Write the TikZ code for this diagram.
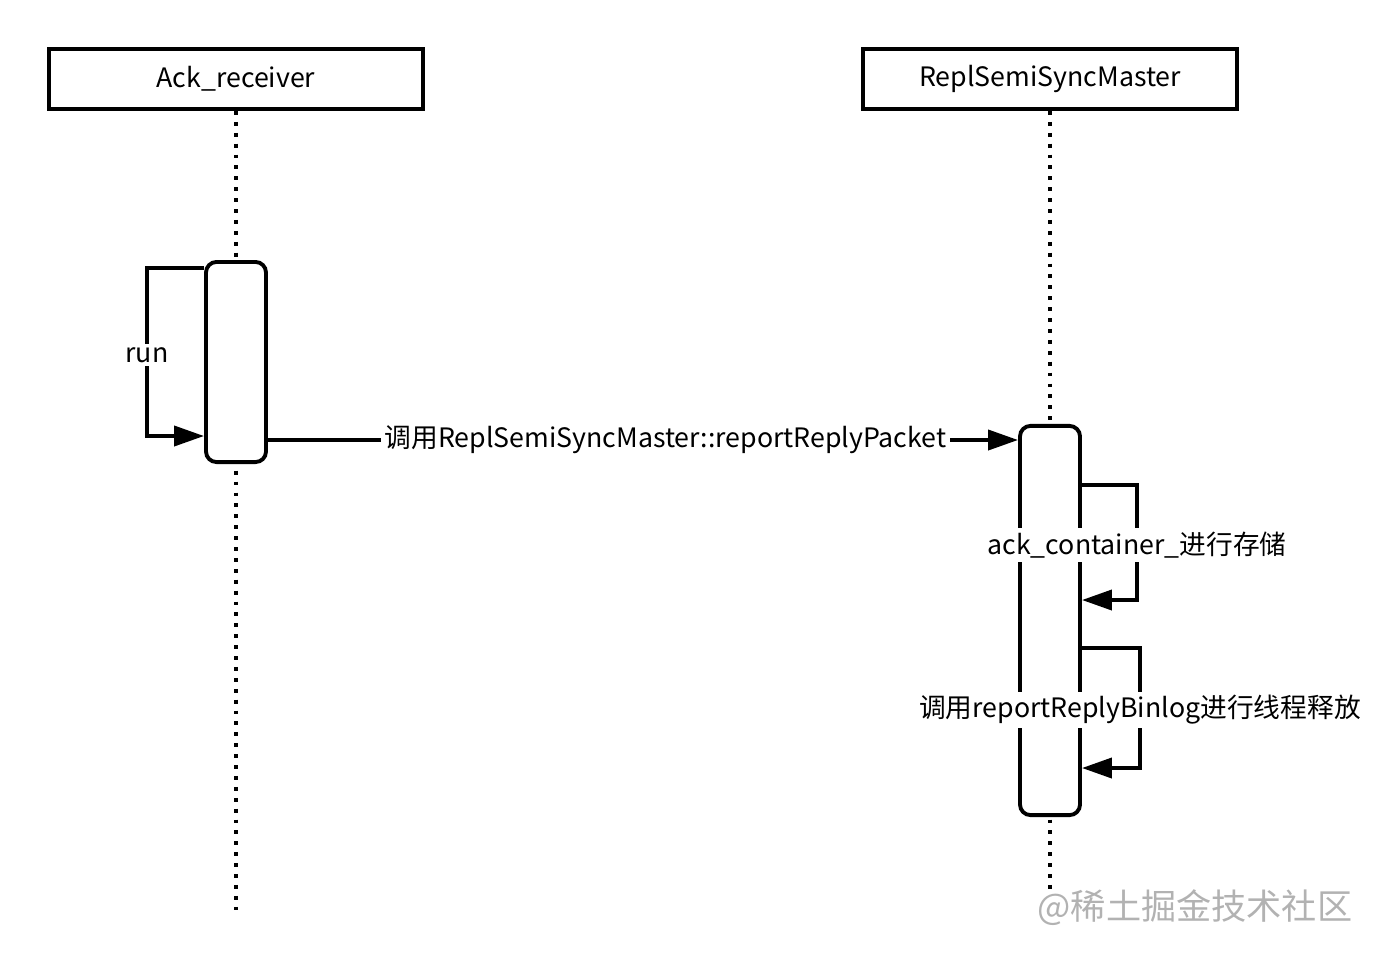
\documentclass[tikz,border=0pt]{standalone}
\usepackage{fontspec}
\setmainfont{Noto Sans CJK SC}
\usetikzlibrary{arrows.meta,positioning}
\tikzset{
    actor/.style={draw, line width=1.1pt, minimum width=3.73cm, minimum height=0.6cm, inner sep=0pt},
    act/.style={draw, line width=1.1pt, rounded corners=3pt, minimum width=0.6cm, inner sep=0pt},
    life/.style={dotted, line width=1.1pt},
    msg/.style={line width=1.1pt, -{Triangle[length=0.3cm, width=0.2cm]}},
    lbl/.style={fill=white, inner sep=1pt, font=\fontsize{7.6}{9}\selectfont}
}
\begin{document}
\begin{tikzpicture}[x=0.01cm, y=-0.01cm]
    \useasboundingbox (0,0) rectangle (1388,960);
    % Teilnehmer
    \node[actor, font=\fontsize{7.6}{9}\selectfont] (ack) at (236,79) {Ack\_receiver};
    \node[actor, font=\fontsize{7.6}{9}\selectfont] (master) at (1050,79) {ReplSemiSyncMaster};
    % Lebenslinien
    \coordinate (ackend) at (236,910);
    \coordinate (masterend) at (1050,895);
    \draw[life] (ack) -- (ackend);
    \draw[life] (master) -- (masterend);
    % Aktivierungen
    \node[act, minimum height=2cm, fill=white] (ackact) at (236,362) {};
    \node[act, minimum height=3.89cm, fill=white] (masteract) at (1050,620.5) {};
    % Selbstaufruf run
    \coordinate (r1) at (147,268);
    \coordinate (r2) at (147,436);
    \draw[msg] (ackact.north west |- 0,268) -- (r1) -- (r2) -- (ackact.west |- 0,436);
    \node[lbl] (run) at (147,355) {run};
    % Nachricht
    \draw[msg] (ackact.east |- 0,440) -- (masteract.west |- 0,440)
        node[lbl, pos=0.53] (call) {调用ReplSemiSyncMaster::reportReplyPacket};
    % Selbstaufrufe Master
    \coordinate (s1) at (1137,485);
    \coordinate (s2) at (1137,600);
    \draw[msg] (masteract.east |- 0,485) -- (s1) -- (s2) -- (masteract.east |- 0,600);
    \node[lbl] (store) at (1137,545) {ack\_container\_进行存储};
    \coordinate (t1) at (1140,648);
    \coordinate (t2) at (1140,768);
    \draw[msg] (masteract.east |- 0,648) -- (t1) -- (t2) -- (masteract.east |- 0,768);
    \node[lbl] (release) at (1140,710) {调用reportReplyBinlog进行线程释放};
    % Wasserzeichen
    \node[text=gray!60, font=\fontsize{10}{12}\selectfont] (mark) at (1195,908) {@稀土掘金技术社区};
\end{tikzpicture}
\end{document}
